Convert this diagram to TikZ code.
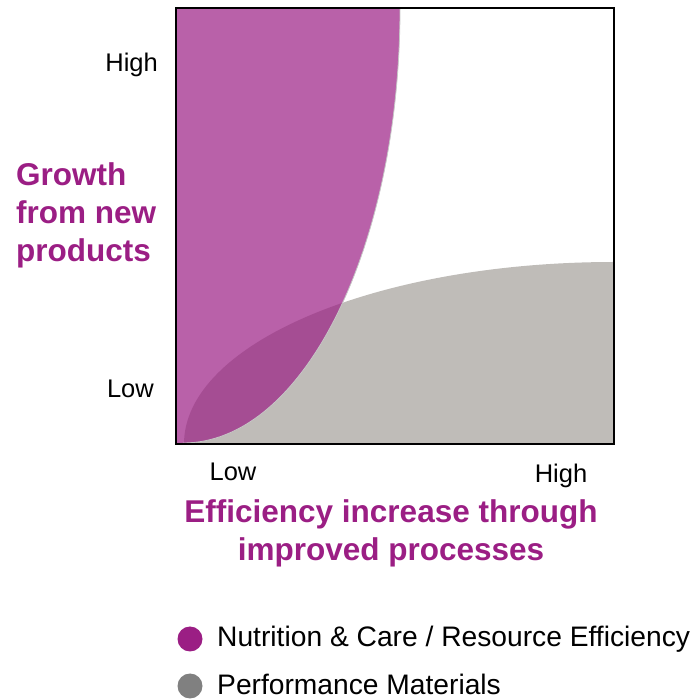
\documentclass[tikz,border=0pt]{standalone}
\usepackage{fontspec}
\setmainfont{Liberation Sans}
\definecolor{growthpurple}{RGB}{155,30,132}
\definecolor{perfgray}{RGB}{191,188,184}
\definecolor{legendgray}{RGB}{128,128,128}
\tikzset{
  axislabel/.style={font=\fontsize{25.5}{30}\selectfont, inner sep=0pt},
  axistitle/.style={font=\fontsize{31.5}{38}\selectfont\bfseries, text=growthpurple, inner sep=0pt},
  legendtext/.style={font=\fontsize{28.2}{33}\selectfont, inner sep=0pt, anchor=base west},
  legenddot/.style={circle, inner sep=0pt, minimum size=25pt}
}
\begin{document}
\begin{tikzpicture}[x=1pt,y=1pt]
\useasboundingbox (0,0) rectangle (691,699);
% draw the gray area
\fill[perfgray] (614,255) -- (614,437)
  arc[start angle=90, end angle=180, x radius=430, y radius=182] -- cycle;
% draw the purple area
\fill[growthpurple, fill opacity=0.7] (176,691) -- (400,691)
  arc[start angle=0, end angle=-90, x radius=217, y radius=435] -- (176,256) -- cycle;
\draw[gray!45, line width=0.8pt] (400,691)
  arc[start angle=0, end angle=-90, x radius=217, y radius=435];
% draw the frame
\draw[line width=2.5pt] (176,255) rectangle (614,691);

% draw nodes for the axis labels
\node[axislabel, anchor=base east] (yhigh) at (158,627) {High};
\node[axislabel, anchor=base east] (ylow) at (154,301) {Low};
\node[axislabel, anchor=base] (xlow) at (233,218) {Low};
\node[axislabel, anchor=base] (xhigh) at (561,216) {High};
\node[axistitle, anchor=west, align=left] (ytitle) at (16,484) {
  Growth\\
  from new\\
  products
};
\node[axistitle, align=center] (xtitle) at (391,166) {
  Efficiency increase through\\
  improved processes
};

% draw the legend
\node[legenddot, fill=growthpurple] (nutdot) at (190,60) {};
\node[legendtext] (nuttext) at (217,52) {Nutrition \& Care / Resource Efficiency};
\node[legenddot, fill=legendgray] (perfdot) at (190,13) {};
\node[legendtext] (perftext) at (217,5) {Performance Materials};
\end{tikzpicture}
\end{document}
